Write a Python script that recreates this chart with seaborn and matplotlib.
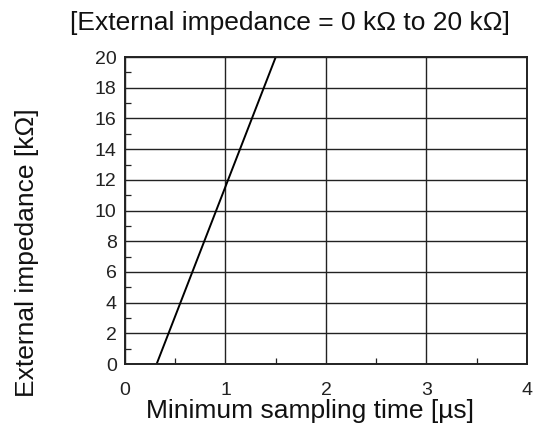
import matplotlib
matplotlib.use("Agg")
import matplotlib.pyplot as plt
import seaborn as sns
import pandas as pd
from matplotlib.ticker import MultipleLocator

# line end points
sampling_time_us = [0.315, 1.5]
impedance_kohm = [0.0, 20.0]

x_ticks = [0, 1, 2, 3, 4]
y_ticks = [0, 2, 4, 6, 8, 10, 12, 14, 16, 18, 20]

title = "[External impedance = 0 k\u03a9 to 20 k\u03a9]"
x_label = "Minimum sampling time [\u00b5s]"
y_label = "External impedance [k\u03a9]"

sns.set_style("white")
plt.rcParams["font.family"] = ["Liberation Sans", "DejaVu Sans"]

df = pd.DataFrame({"t": sampling_time_us, "z": impedance_kohm})

fig = plt.figure(figsize=(5.35, 4.26), dpi=100)
ax = fig.add_axes([0.2336, 0.1455, 0.7514, 0.7205])

sns.lineplot(data=df, x="t", y="z", ax=ax, color="black", linewidth=1.4)

ax.set_xlim(0, 4)
ax.set_ylim(0, 20)
ax.set_xticks(x_ticks)
ax.set_yticks(y_ticks)
ax.xaxis.set_minor_locator(MultipleLocator(0.5))
ax.yaxis.set_minor_locator(MultipleLocator(1))

ax.grid(True, which="major", color="#222222", linewidth=1.0)
ax.tick_params(which="major", length=0, labelsize=14, colors="#222222")
ax.tick_params(axis="x", which="major", pad=13)
ax.tick_params(axis="y", which="major", pad=6)
ax.tick_params(which="minor", direction="in", length=4, width=0.9, color="#222222",
               bottom=True, left=True)

for sp in ax.spines.values():
    sp.set_color("#222222")
    sp.set_linewidth(1.4)

ax.set_xlabel("")
ax.set_ylabel("")
fig.text(0.579, 0.008, x_label, ha="center", va="bottom", fontsize=19, color="#111111")
fig.text(0.05, 0.408, y_label, ha="center", va="center", rotation=90, fontsize=19, color="#111111")
fig.text(0.542, 0.947, title, ha="center", va="center", fontsize=19, color="#111111")

fig.savefig("out.png", dpi=100)
